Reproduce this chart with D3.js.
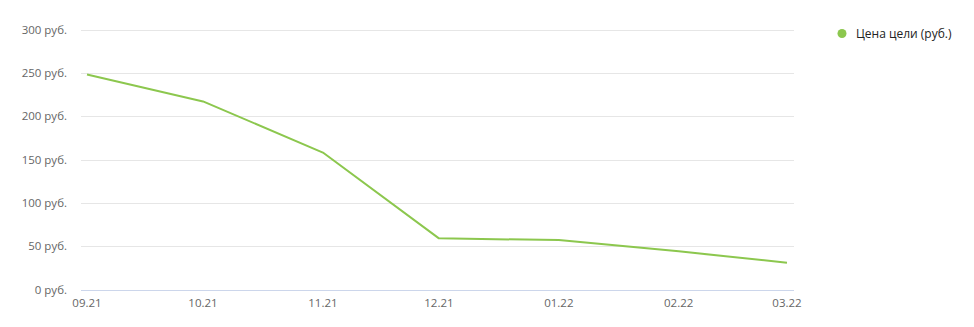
<!DOCTYPE html>
<html lang="ru">
<head>
<meta charset="UTF-8">
<script src="https://d3js.org/d3.v7.min.js"></script>
<style>
body{
	margin: 0;
	background-color: white;
	font-family: "Open Sans", "Noto Sans", sans-serif;
}
.grid line{ stroke: #e6e6e6; }
.axisY text, .axisX text{ fill: #666; font-size: 11.5px; }
.legend text{ fill: #222; font-size: 12px; }
</style>
</head>
<body>
<svg width="974" height="327"></svg>
<script>
// data
const months = ["2021-09-01", "2021-10-01", "2021-11-01", "2021-12-01", "2022-01-01", "2022-02-01", "2022-03-01"]
const monthLabels = ["09.21", "10.21", "11.21", "12.21", "01.22", "02.22", "03.22"]
const price = [248, 217, 158, 59, 57, 44, 31]
const yTicks = [0, 50, 100, 150, 200, 250, 300]
const seriesName = "Цена цели (руб.)"
const green = "#8cc74e"

const svg = d3.select("svg")
const parse = d3.timeParse("%Y-%m-%d")
const dates = months.map(parse)

const x = d3.scaleTime()
	.domain(d3.extent(dates))
	.range([87, 787])

const y = d3.scaleLinear()
	.domain([0, 300])
	.range([289.5, 29.5])

// gridlines
svg.append("g").attr("class", "grid")
	.selectAll("line")
	.data(yTicks.filter(d => d > 0))
	.join("line")
	.attr("x1", 81).attr("x2", 794)
	.attr("y1", d => Math.round(y(d)) + 0.5)
	.attr("y2", d => Math.round(y(d)) + 0.5)

// baseline
svg.append("line")
	.attr("x1", 81).attr("x2", 794)
	.attr("y1", Math.round(y(0)) + 0.5).attr("y2", Math.round(y(0)) + 0.5)
	.style("stroke", "#ccd6eb")

// y labels
svg.append("g").attr("class", "axisY")
	.selectAll("text")
	.data(yTicks)
	.join("text")
	.attr("x", 67)
	.attr("y", d => y(d) + 4)
	.attr("text-anchor", "end")
	.text(d => d + " руб.")

// x labels
svg.append("g").attr("class", "axisX")
	.selectAll("text")
	.data(dates)
	.join("text")
	.attr("x", d => x(d))
	.attr("y", 307)
	.attr("text-anchor", "middle")
	.text((d, i) => monthLabels[i])

// line
const line = d3.line()
	.x((d, i) => x(dates[i]))
	.y(d => y(d))

svg.append("path")
	.datum(price)
	.attr("d", line)
	.style("fill", "none")
	.style("stroke", green)
	.style("stroke-width", 2)
	.style("stroke-linejoin", "round")

// legend
const legend = svg.append("g").attr("class", "legend").attr("transform", "translate(842,33.5)")
legend.append("circle").attr("r", 4.5).style("fill", green)
legend.append("text").attr("x", 14).attr("y", 4).text(seriesName)
</script>
</body>
</html>
